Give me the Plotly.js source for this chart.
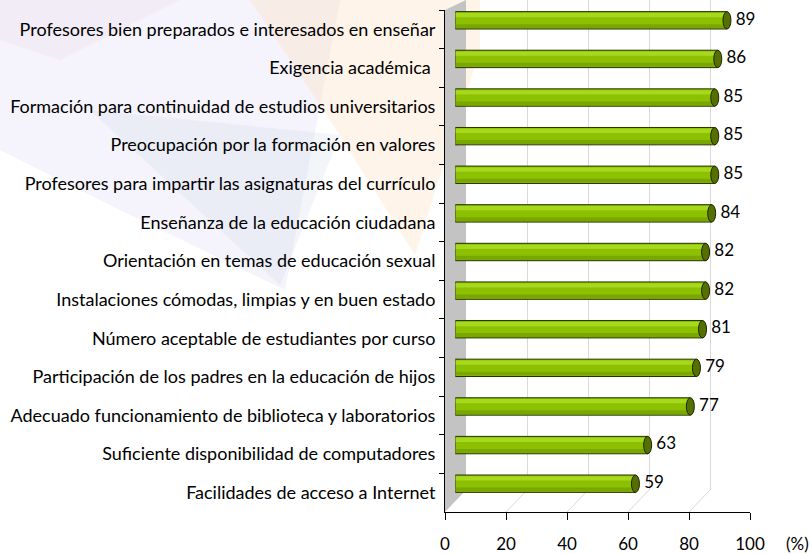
<!DOCTYPE html>
<html>
<head>
<meta charset="utf-8">
<script src="https://cdn.plot.ly/plotly-3.0.1.min.js"></script>
<style>
  html, body { margin: 0; padding: 0; background: #ffffff; }
  #chart { width: 810px; height: 554px; }
</style>
</head>
<body>
<div id="chart"></div>
<script>
// ---------------- data ----------------
const categories = [
  "Profesores bien preparados e interesados en enseñar",
  "Exigencia académica ",
  "Formación para continuidad de estudios universitarios",
  "Preocupación por la formación en valores",
  "Profesores para impartir las asignaturas del currículo",
  "Enseñanza de la educación ciudadana",
  "Orientación en temas de educación sexual",
  "Instalaciones cómodas, limpias y en buen estado",
  "Número aceptable de estudiantes por curso",
  "Participación de los padres en la educación de hijos",
  "Adecuado funcionamiento de biblioteca y laboratorios",
  "Suficiente disponibilidad de computadores",
  "Facilidades de acceso a Internet"
];
const values = [89, 86, 85, 85, 85, 84, 82, 82, 81, 79, 77, 63, 59];
const valueLabels = ["89", "86", "85", "85", "85", "84", "82", "82", "81", "79", "77", "63", "59"];
const xTickVals = [0, 20, 40, 60, 80, 100];
const xTickText = ["0", "20", "40", "60", "80", "100"];

// ---------------- geometry helpers (pixels -> paper) ----------------
const W = 810, H = 554;
const px = x => x / W;
const py = y => 1 - y / H;
const FONT = "Lato, 'Open Sans', sans-serif";

// ---------------- traces ----------------
const traces = [];

// invisible trace for the back wall subplot (x2/y2)
traces.push({ x: [null], y: [null], xaxis: "x2", yaxis: "y2", type: "scatter",
  mode: "markers", hoverinfo: "skip", showlegend: false });

// invisible trace carrying the categories on the front axes
traces.push({ x: values.map(() => 0), y: categories, xaxis: "x", yaxis: "y", type: "scatter",
  mode: "markers", marker: { opacity: 0, size: 1 }, hoverinfo: "skip", showlegend: false });

// main cylinder bodies
traces.push({
  type: "bar", orientation: "h", x: values, y: categories,
  xaxis: "x3", yaxis: "y3", width: 0.45,
  marker: { color: "#8dc000", line: { color: "#243300", width: 1 } },
  hoverinfo: "x+y", showlegend: false
});
// highlight strip (upper part of cylinder)
traces.push({
  type: "bar", orientation: "h", x: values, y: categories,
  xaxis: "x3", yaxis: "y3", width: 0.11, offset: -0.19,
  marker: { color: "#a6d81e", line: { width: 0 } },
  hoverinfo: "skip", showlegend: false
});
// shadow strip (lower part of cylinder)
traces.push({
  type: "bar", orientation: "h", x: values, y: categories,
  xaxis: "x3", yaxis: "y3", width: 0.1, offset: 0.1,
  marker: { color: "#7aa600", line: { width: 0 } },
  hoverinfo: "skip", showlegend: false
});
// value labels
traces.push({
  type: "scatter", mode: "text", x: values, y: categories,
  xaxis: "x3", yaxis: "y3", text: valueLabels.map(t => "  " + t),
  textposition: "middle right",
  textfont: { family: FONT, size: 17, color: "#000000" },
  cliponaxis: false, hoverinfo: "skip", showlegend: false
});

// ---------------- shapes ----------------
const shapes = [];

// faint watermark background
shapes.push({ type: "path", xref: "paper", yref: "paper", layer: "below",
  path: `M ${px(0)} ${py(0)} L ${px(340)} ${py(0)} L ${px(285)} ${py(290)} L ${px(120)} ${py(210)} L ${px(0)} ${py(150)} Z`,
  fillcolor: "rgba(214,206,238,0.25)", line: { width: 0 } });
shapes.push({ type: "path", xref: "paper", yref: "paper", layer: "below",
  path: `M ${px(250)} ${py(0)} L ${px(480)} ${py(0)} L ${px(480)} ${py(50)} L ${px(415)} ${py(255)} L ${px(330)} ${py(120)} Z`,
  fillcolor: "rgba(252,222,186,0.32)", line: { width: 0 } });
shapes.push({ type: "path", xref: "paper", yref: "paper", layer: "below",
  path: `M ${px(90)} ${py(110)} L ${px(340)} ${py(135)} L ${px(280)} ${py(285)} Z`,
  fillcolor: "rgba(205,215,232,0.25)", line: { width: 0 } });
shapes.push({ type: "path", xref: "paper", yref: "paper", layer: "below",
  path: `M ${px(0)} ${py(0)} L ${px(180)} ${py(0)} L ${px(60)} ${py(60)} L ${px(0)} ${py(40)} Z`,
  fillcolor: "rgba(235,215,235,0.25)", line: { width: 0 } });

// gray left side wall
shapes.push({ type: "path", xref: "paper", yref: "paper", layer: "below",
  path: `M ${px(445)} ${py(512)} L ${px(466)} ${py(490)} L ${px(466)} ${py(0)} L ${px(445)} ${py(10)} Z`,
  fillcolor: "#c3c3c3", line: { width: 0 } });

// floor depth lines from front tick to back grid line
xTickVals.forEach(v => {
  if (v === 0) return;
  shapes.push({ type: "line", xref: "x", xsizemode: "pixel", xanchor: v, x0: 0, x1: 21,
    yref: "paper", ysizemode: "pixel", yanchor: py(512), y0: 0, y1: 22,
    layer: "below", line: { color: "#d9d9d9", width: 1 } });
});

// cylinder end caps
values.forEach((v, i) => {
  shapes.push({ type: "circle", xref: "x3", yref: "y3", xsizemode: "pixel",
    xanchor: 0, x0: -4, x1: 4, y0: i - 0.225, y1: i + 0.225,
    layer: "below", fillcolor: "#8dc000", line: { color: "#243300", width: 1 } });
  shapes.push({ type: "circle", xref: "x3", yref: "y3", xsizemode: "pixel",
    xanchor: v, x0: -4, x1: 4, y0: i - 0.225, y1: i + 0.225,
    layer: "above", fillcolor: "#556f00", line: { color: "#1b2600", width: 1 } });
});

// ---------------- layout ----------------
const layout = {
  width: W, height: H,
  margin: { l: 0, r: 0, t: 0, b: 0, pad: 0 },
  paper_bgcolor: "#ffffff",
  plot_bgcolor: "rgba(0,0,0,0)",
  showlegend: false,
  barmode: "overlay",
  font: { family: FONT, color: "#000000" },
  xaxis: {
    domain: [px(445), px(750)], range: [0, 100], anchor: "y",
    tickvals: xTickVals, ticktext: xTickText,
    ticks: "outside", ticklen: 7, tickcolor: "#000000", tickwidth: 1,
    ticklabelstandoff: 10,
    showline: true, linecolor: "#000000", linewidth: 1,
    showgrid: false, zeroline: false,
    tickfont: { family: FONT, size: 17, color: "#000000" },
    fixedrange: true
  },
  yaxis: {
    domain: [py(512), py(10)], anchor: "x", type: "category",
    categoryorder: "array", categoryarray: categories, range: [12.5, -0.5],
    tickson: "boundaries", ticks: "outside", ticklen: 5, tickcolor: "#000000",
    ticklabelstandoff: 5,
    showline: true, linecolor: "#000000", linewidth: 1,
    showgrid: false, zeroline: false,
    tickfont: { family: FONT, size: 18, color: "#000000" },
    fixedrange: true
  },
  xaxis2: {
    domain: [px(466), px(771)], range: [0, 100], anchor: "y2",
    tickvals: xTickVals, showticklabels: false, ticks: "",
    showgrid: true, gridcolor: "#d9d9d9", gridwidth: 1,
    zeroline: false, showline: false, fixedrange: true
  },
  yaxis2: {
    domain: [py(490), 1], anchor: "x2", range: [0, 1],
    visible: false, showgrid: false, zeroline: false, fixedrange: true
  },
  xaxis3: {
    domain: [px(455.5), px(760.5)], range: [0, 100], anchor: "y3",
    visible: false, showgrid: false, zeroline: false, fixedrange: true
  },
  yaxis3: {
    domain: [py(503), py(1)], anchor: "x3", type: "category",
    categoryorder: "array", categoryarray: categories, range: [12.5, -0.5],
    visible: false, showgrid: false, zeroline: false, fixedrange: true
  },
  shapes: shapes,
  annotations: [{
    text: "(%)", xref: "paper", yref: "paper", x: px(797), y: py(543),
    xanchor: "center", yanchor: "middle", showarrow: false,
    font: { family: FONT, size: 17, color: "#000000" }
  }]
};

Plotly.newPlot("chart", traces, layout, { displayModeBar: false, staticPlot: true });
</script>
</body>
</html>
